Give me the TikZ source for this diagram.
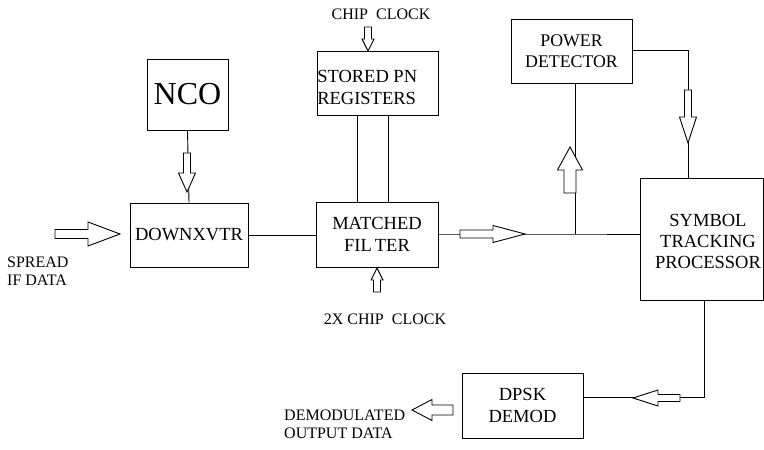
\documentclass[tikz,border=0pt]{standalone}
\usepackage{fontspec}
\setmainfont{Liberation Serif}
\usetikzlibrary{calc}
\tikzset{
  x=1pt, y=-1pt,
  box/.style={draw, line width=0.9pt, inner sep=0pt, align=center,
    font=\fontsize{18.5}{21.5}\selectfont},
  lbl/.style={inner sep=0pt, align=left, font=\fontsize{16}{18}\selectfont},
  wire/.style={line width=0.9pt},
  hollowarr/.style={draw, fill=white, line width=0.9pt, line join=miter}
}
% tail x, tail y, rotation, length, shaft half-width, head half-width, head length
\newcommand\harr[7]{%
  \begin{scope}[shift={(#1,#2)},rotate=#3]
    \draw[hollowarr] (0,#5) -- ({#4-#7},#5) -- ({#4-#7},#6) -- (#4,0)
      -- ({#4-#7},-#6) -- ({#4-#7},-#5) -- (0,-#5) -- cycle;
  \end{scope}}
\begin{document}
\begin{tikzpicture}
\useasboundingbox[fill=white] (0,0) rectangle (764,450);

% boxes
\node[box, minimum width=81, minimum height=71,
      font=\fontsize{32}{34}\selectfont] (nco) at (187.5,94.5) {NCO};
\node[box, minimum width=118, minimum height=64] (dn) at (189,235) {DOWNXVTR};
\node[box, minimum width=121, minimum height=64] (pn) at (377.5,83) {};
\node[inner sep=0.5pt, anchor=west, align=left,
      font=\fontsize{18.5}{21.5}\selectfont] (pntext) at ($(pn.west)+(0,4.5)$) {STORED PN\\REGISTERS};
\node[box, minimum width=122, minimum height=65] (mf) at (377,234.5) {MATCHED\\FIL\,TER};
\node[box, minimum width=121, minimum height=64, font=\fontsize{17.8}{20.5}\selectfont] (pw) at (571.5,51) {POWER\\DETECTOR};
\node[box, minimum width=123, minimum height=122] (sym) at (701.5,239) {};
\node[inner sep=0pt, align=center, font=\fontsize{18.5}{21}\selectfont] (symtext) at (708,241) {SYMBOL\\TRACKING\\PROCESSOR};
\node[box, minimum width=121, minimum height=65] (dp) at (522.5,405.5) {DPSK\\DEMOD};

% labels
\node[lbl, anchor=west] (spread) at (7,271) {SPREAD\\IF DATA};
\node[lbl] (cc) at (381,14) {CHIP\ \ CLOCK};
\node[lbl] (cc2) at (385,319) {2X CHIP\ \ CLOCK};
\node[lbl, anchor=west] (out) at (284,424.5) {DEMODULATED\\OUTPUT DATA};

% coordinates
\coordinate (j) at (575,234);
\coordinate (c1) at (688,50);
\coordinate (c2) at (704,397);

% connectors
\draw[wire] (nco.south) -- (dn.north);
\draw[wire] (dn.east) -- (dn.east -| mf.west);
\draw[wire] ($(pn.south)+(-20.5,0)$) -- ($(mf.north)+(-20,0)$);
\draw[wire] ($(pn.south)+(10.5,0)$) -- ($(mf.north)+(11,0)$);
\draw[wire] (mf.east |- j) -- (j) -- (j -| sym.west);
\draw[wire] (pw.south -| j) -- (j);
\draw[wire] (pw.east |- c1) -- (c1) -- (c1 |- sym.north);
\draw[wire] (sym.south -| c2) -- (c2) -- (c2 -| dp.east);

% hollow arrows
\harr{55}{234}{0}{65}{4.5}{12}{32}      % spread in
\harr{187}{153}{-90}{39}{3.5}{8.5}{19}  % nco -> downxvtr
\harr{368}{27}{-90}{24}{3.5}{6}{12}     % chip clock
\harr{377}{292}{90}{24}{3.5}{6}{12}     % 2x chip clock
\harr{460}{234}{0}{65}{4}{8.5}{32}      % matched -> symbol
\harr{570}{193}{90}{46}{6}{12.5}{23}    % up to power detector
\harr{688}{90}{-90}{53}{3.5}{8.5}{26}   % power -> symbol
\harr{680}{398}{180}{47}{3.5}{8}{25}    % symbol -> dpsk
\harr{453}{410}{180}{41}{5}{10.5}{20}   % output
\end{tikzpicture}
\end{document}
